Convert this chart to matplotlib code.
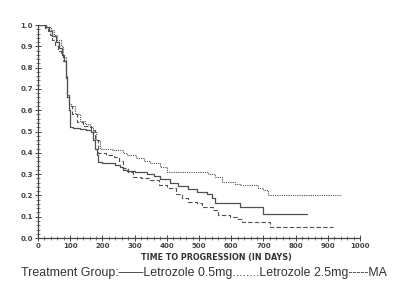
import matplotlib
matplotlib.use("Agg")
import matplotlib.pyplot as plt
from matplotlib.ticker import MultipleLocator

# Kaplan-Meier style step curves (days, proportion)
t_let05 = [0, 25, 35, 45, 55, 65, 75, 82, 86, 90, 95, 99, 110, 130, 150, 166,
           172, 178, 182, 186, 200, 220, 240, 255, 265, 275, 300, 337, 360,
           380, 410, 436, 467, 493, 524, 539, 549, 627, 700, 834]
s_let05 = [1.0, 0.99, 0.97, 0.95, 0.92, 0.89, 0.86, 0.83, 0.75, 0.66, 0.60,
           0.52, 0.515, 0.51, 0.505, 0.50, 0.46, 0.42, 0.39, 0.358, 0.354,
           0.35, 0.345, 0.335, 0.32, 0.315, 0.31, 0.30, 0.29, 0.275, 0.26,
           0.244, 0.229, 0.218, 0.205, 0.186, 0.166, 0.147, 0.112, 0.112]

t_let25 = [0, 25, 40, 50, 60, 70, 78, 86, 90, 95, 104, 115, 130, 145, 161,
           170, 180, 192, 230, 265, 275, 303, 330, 348, 380, 400, 529, 549,
           570, 612, 627, 684, 700, 715, 941]
s_let25 = [1.0, 0.99, 0.975, 0.955, 0.93, 0.90, 0.85, 0.76, 0.67, 0.63,
           0.62, 0.58, 0.55, 0.535, 0.52, 0.50, 0.46, 0.42, 0.415, 0.40, 0.39,
           0.374, 0.36, 0.35, 0.335, 0.311, 0.30, 0.288, 0.264, 0.256, 0.249,
           0.233, 0.225, 0.202, 0.202]

t_ma = [0, 22, 30, 37, 45, 53, 62, 70, 78, 86, 90, 95, 105, 120, 140, 166,
        176, 186, 210, 235, 250, 265, 280, 295, 320, 348, 375, 400, 430, 446,
        467, 493, 508, 544, 560, 596, 617, 632, 720, 915]
s_ma = [1.0, 0.985, 0.97, 0.953, 0.93, 0.906, 0.88, 0.86, 0.83, 0.76, 0.67,
        0.62, 0.58, 0.545, 0.525, 0.507, 0.46, 0.40, 0.39, 0.38, 0.36, 0.33,
        0.31, 0.288, 0.28, 0.272, 0.25, 0.233, 0.206, 0.186, 0.171, 0.163,
        0.147, 0.131, 0.108, 0.100, 0.088, 0.077, 0.053, 0.053]

fig = plt.figure(figsize=(4, 2.91), dpi=100)
ax = fig.add_axes([0.095, 0.182, 0.805, 0.732])

col = "#505050"
ax.step(t_let05, s_let05, where="post", color=col, lw=0.9, ls="-")
ax.step(t_let25, s_let25, where="post", color=col, lw=0.8, ls=(0, (1, 1)))
ax.step(t_ma, s_ma, where="post", color=col, lw=0.8, ls=(0, (4, 2)))

ax.set_xlim(0, 1000)
ax.set_ylim(0, 1.0)
ax.xaxis.set_major_locator(MultipleLocator(100))
ax.xaxis.set_minor_locator(MultipleLocator(20))
ax.yaxis.set_major_locator(MultipleLocator(0.1))
ax.yaxis.set_minor_locator(MultipleLocator(0.02))
ax.yaxis.set_major_formatter(plt.FuncFormatter(lambda v, p: f"{v:.1f}"))

for s in ["top", "right"]:
    ax.spines[s].set_visible(False)
for s in ["left", "bottom"]:
    ax.spines[s].set_color("#444444")
    ax.spines[s].set_linewidth(0.9)

ax.tick_params(which="major", direction="inout", length=4, width=0.7,
               colors="#444444", labelsize=5, pad=1.5)
ax.tick_params(which="minor", direction="inout", length=2.5, width=0.5,
               colors="#444444")
for lab in ax.get_xticklabels() + ax.get_yticklabels():
    lab.set_fontweight("bold")

ax.set_xlabel("TIME TO PROGRESSION (IN DAYS)", fontsize=5.8,
              fontweight="bold", color="#333333")
ax.xaxis.set_label_coords(0.553, -0.072)

fig.text(0.51, 0.063,
         "Treatment Group:——Letrozole 0.5mg........Letrozole 2.5mg-----MA",
         ha="center", va="center", fontsize=8.9, family="Liberation Sans",
         color="#333333")

fig.savefig("out.png", dpi=100)
